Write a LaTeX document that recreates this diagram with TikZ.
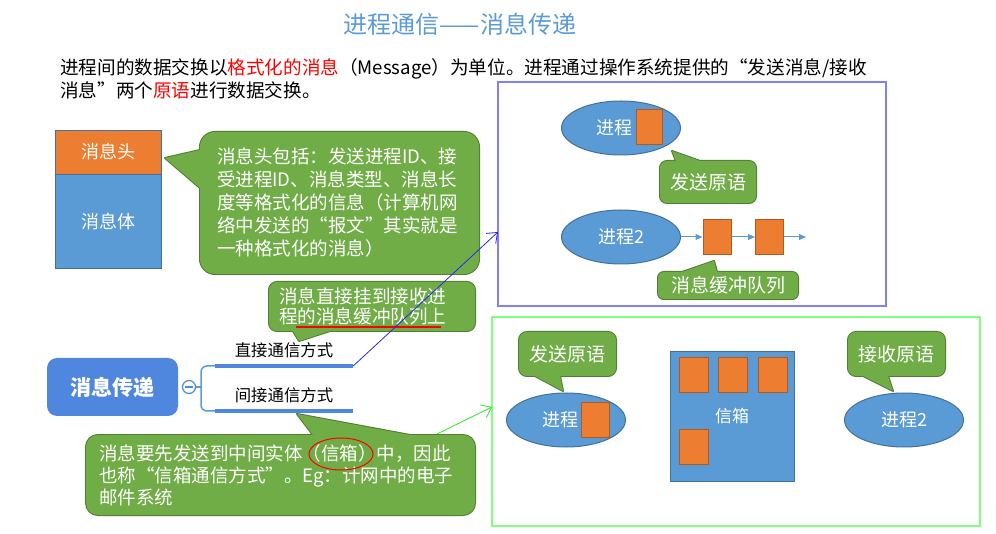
\documentclass[tikz,border=0pt]{standalone}
\usepackage{fontspec}
\setmainfont{Noto Sans CJK SC}
\usetikzlibrary{shapes.geometric,arrows.meta,positioning}

\definecolor{TitleBlue}{RGB}{91,155,213}
\definecolor{NoteGreen}{RGB}{112,173,71}
\definecolor{NoteDark}{RGB}{80,126,50}
\definecolor{ProcBlue}{RGB}{91,155,213}
\definecolor{ProcDark}{RGB}{65,113,156}
\definecolor{MsgOrange}{RGB}{237,125,49}
\definecolor{MsgDark}{RGB}{174,90,33}
\definecolor{MapBlue}{RGB}{79,135,222}
\definecolor{FrameBlue}{RGB}{128,128,255}
\definecolor{FrameGreen}{RGB}{128,255,128}
\definecolor{LinkBlue}{RGB}{40,40,240}
\definecolor{LinkGreen}{RGB}{40,230,40}

\tikzset{
  note/.style={fill=NoteGreen, preaction={draw=NoteDark, line width=2pt}, text=white, align=left, inner sep=0pt, font=\fontsize{18.5}{22}\selectfont},
  beakline/.style={draw=NoteDark, line width=2pt, line join=round},
  beakfill/.style={fill=NoteGreen},
  proc/.style={ellipse, fill=ProcBlue, draw=ProcDark, line width=1pt, minimum width=119pt, minimum height=54pt, inner sep=0pt, text=white, font=\fontsize{18}{20}\selectfont},
  letter/.style={fill=MsgOrange, draw=MsgDark, line width=1pt, minimum width=28pt, minimum height=35pt, inner sep=0pt},
  queue/.style={ProcBlue, line width=1pt, -{Triangle[length=7pt,width=6pt]}},
  bar/.style={fill=MapBlue, minimum width=138pt, minimum height=4pt, inner sep=0pt},
  branch/.style={ProcBlue, line width=1.5pt},
  link/.style={line width=0.8pt, -{Straight Barb[length=9pt,width=14pt]}},
}

\begin{document}
\begin{tikzpicture}[x=1pt, y=-1pt]
\useasboundingbox (0,0) rectangle (996,534);

\node[text=TitleBlue, font=\fontsize{24}{26}\selectfont] (title) at (460,24) {进程通信——消息传递};
\node[anchor=west, align=left, inner sep=0pt, font=\fontsize{18.6}{23}\selectfont] (intro) at (60,78.5)
  {进程间的数据交换以\textcolor{red}{格式化的消息}（Message）为单位。进程通过操作系统提供的“发送消息/接收\\
   消息”两个\textcolor{red}{原语}进行数据交换。};

% message layout
\node[fill=MsgOrange, draw=ProcDark, line width=0.8pt, minimum width=106pt, minimum height=44pt, text=white, font=\fontsize{18}{20}\selectfont] (msghead) at (108,152) {消息头};
\node[fill=ProcBlue, draw=ProcDark, line width=0.8pt, minimum width=106pt, minimum height=94pt, text=white, font=\fontsize{18}{20}\selectfont, below=0pt of msghead] (msgbody) {消息体};

\draw[beakline] (200,150) -- (165,158) -- (200,188);
\node[note, rounded corners=15pt, minimum width=279pt, minimum height=142pt, text width=245pt, inner xsep=17pt, font=\fontsize{18.5}{23}\selectfont] (headnote) at (339.5,203)
  {消息头包括：发送进程ID、接\\受进程ID、消息类型、消息长\\度等格式化的信息（计算机网\\络中发送的“报文”其实就是\\一种格式化的消息）};
\fill[beakfill] (200,150) -- (165,158) -- (200,188) -- cycle;

% mind map
\node[fill=MapBlue, rounded corners=10pt, minimum width=131pt, minimum height=58pt, text=white, font=\fontsize{21}{24}\selectfont\bfseries] (topic) at (112.5,387) {消息传递};
\node[circle, draw=MapBlue, fill=white, line width=1.2pt, minimum size=13pt, inner sep=0pt] (fold) at (189,387) {};
\draw[MapBlue, line width=1.2pt] ([xshift=3pt]fold.west) -- ([xshift=-3pt]fold.east);
\node[bar] (directbar) at (284,366) {};
\node[bar] (mailbar) at (284,411) {};
\node[above=6pt of directbar, inner sep=0pt, font=\fontsize{16.4}{18}\selectfont] (directlabel) {直接通信方式};
\node[above=6pt of mailbar, inner sep=0pt, font=\fontsize{16.4}{18}\selectfont] (maillabel) {间接通信方式};
\draw[branch] (fold.east) -- (201,387);
\draw[branch, rounded corners=6pt] (directbar.west) -| (201,387) |- (mailbar.west);

\draw[beakline] (293,331) -- (299,341) -- (330,331);
\node[note, rounded corners=8pt, minimum width=206pt, minimum height=49pt, text width=186pt, inner xsep=10pt, font=\fontsize{18.6}{20.5}\selectfont] (directnote) at (372,306.5)
  {消息直接挂到接收进\\程的消息缓冲队列上};
\fill[beakfill] (293,331) -- (299,341) -- (330,331) -- cycle;
\draw[red, line width=1.2pt] (296,327) -- (441,327);

\draw[beakline] (313,435) -- (297,414) -- (410,435);
\node[note, rounded corners=12pt, minimum width=389pt, minimum height=80pt, text width=363pt, inner xsep=13pt] (mailnote) at (280.5,475)
  {消息要先发送到中间实体（信箱）中，因此\\也称“信箱通信方式”。Eg：计网中的电子\\邮件系统};
\fill[beakfill] (313,435) -- (297,414) -- (410,435) -- cycle;
\draw[red, line width=1pt] (341,454) ellipse [x radius=32pt, y radius=16pt];

% direct communication
\node[draw=FrameBlue, line width=2pt, minimum width=388pt, minimum height=224pt, inner sep=0pt] (directframe) at (692,194) {};
\node[proc] (sender) at (621,128) {进程\kern14pt};
\node[letter, minimum width=26pt] (sendmsg) at (649,127.5) {};
\draw[beakline] (676,161) -- (672,151) -- (700,161);
\node[note, rounded corners=7pt, minimum width=96pt, minimum height=42pt, align=center, font=\fontsize{19}{21}\selectfont] (sendnote) at (708,182) {发送原语};
\fill[beakfill] (676,161) -- (672,151) -- (700,161) -- cycle;

\node[proc] (receiver) at (621,237) {进程2};
\node[letter] (q1) at (717,237) {};
\node[letter] (q2) at (769.5,237) {};
\coordinate (qend) at (806,237);
\draw[queue] (receiver.east) -- (q1.west);
\draw[queue] (q1.east) -- (q2.west);
\draw[queue] (q2.east) -- (qend);
\draw[beakline] (682,272) -- (714,261) -- (717,272);
\node[note, rounded corners=6pt, minimum width=140pt, minimum height=27pt, align=center, font=\fontsize{19}{21}\selectfont] (queuenote) at (728,285.5) {消息缓冲队列};
\fill[beakfill] (682,272) -- (714,261) -- (717,272) -- cycle;

% indirect communication
\node[draw=FrameGreen, line width=2pt, minimum width=488pt, minimum height=209pt, inner sep=0pt] (mailframe) at (736,421.5) {};
\draw[beakline] (535,376) -- (563,391) -- (560,376);
\node[note, rounded corners=8pt, minimum width=97pt, minimum height=44pt, align=center, font=\fontsize{19}{21}\selectfont] (sendnote2) at (567.5,354) {发送原语};
\fill[beakfill] (535,376) -- (563,391) -- (560,376) -- cycle;
\node[proc] (sender2) at (566,420) {进程\kern12pt};
\node[letter, minimum height=34pt] (sendmsg2) at (595,420) {};

\node[fill=ProcBlue, draw=ProcDark, line width=0.6pt, minimum width=124pt, minimum height=130pt, text=white, font=\fontsize{17}{19}\selectfont] (mailbox) at (732,416) {信箱};
\foreach \x [count=\i] in {693.5,733,772.5}
  \node[letter, minimum width=29pt] (box\i) at (\x,375.5) {};
\node[letter, minimum width=29pt] (box4) at (693.5,446.5) {};

\draw[beakline] (863,376) -- (893,391) -- (888,376);
\node[note, rounded corners=8pt, minimum width=97pt, minimum height=44pt, align=center, font=\fontsize{19}{21}\selectfont] (recvnote) at (896.5,354) {接收原语};
\fill[beakfill] (863,376) -- (893,391) -- (888,376) -- cycle;
\node[proc] (receiver2) at (904,420) {进程2};

% links to the two pictures
\coordinate (directin) at (498,232);
\coordinate (mailout) at (437,434);
\coordinate (mailin) at (492,407);
\draw[link, LinkBlue] (directbar.east) -- (directin);
\draw[link, LinkGreen] (mailout) -- (mailin);
\end{tikzpicture}
\end{document}
